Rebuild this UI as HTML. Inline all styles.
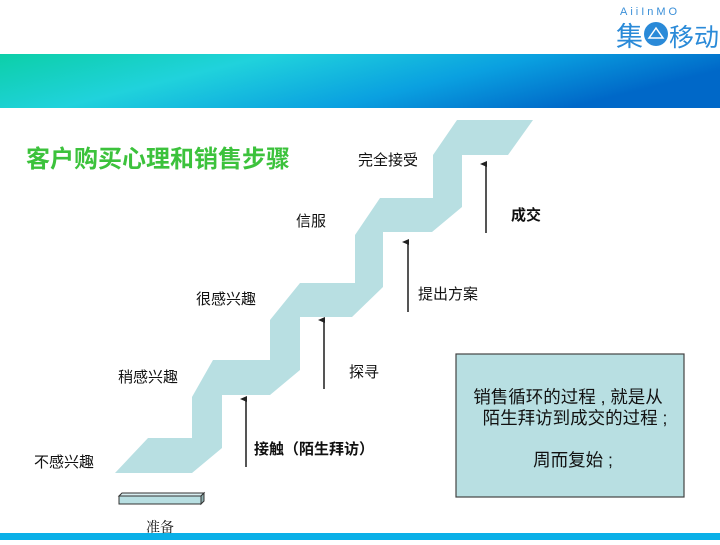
<!DOCTYPE html>
<html><head><meta charset="utf-8"><style>
body{margin:0;width:720px;height:540px;overflow:hidden;background:#fff;font-family:"Liberation Sans","Noto Sans CJK SC",sans-serif}
</style></head><body>
<svg width="720" height="540" viewBox="0 0 720 540" xmlns="http://www.w3.org/2000/svg" font-family="Liberation Sans, Noto Sans CJK SC, sans-serif">
<defs>
<linearGradient id="hg" x1="0" y1="0" x2="1" y2="0.3">
<stop offset="0" stop-color="#0ccfa8"/>
<stop offset="0.35" stop-color="#20d2dc"/>
<stop offset="0.7" stop-color="#0aa0e0"/>
<stop offset="1" stop-color="#0068c8"/>
</linearGradient>
<marker id="ar" markerWidth="8" markerHeight="8" refX="4" refY="6" orient="auto-start-reverse" markerUnits="userSpaceOnUse"><path d="M1,7 L4,0 L7,7 Z" fill="#222"/></marker>
</defs>
<rect x="0" y="54" width="720" height="54" fill="url(#hg)"/>
<text x="620" y="15" font-size="11" fill="#3a8fd8" letter-spacing="3">AiiInMO</text>
<text x="616" y="46" font-size="27" fill="#2a8ad8">集</text>
<circle cx="656" cy="34" r="12" fill="#2a8ad8"/>
<path d="M649,38 L656,28 L663,38 Z" fill="none" stroke="#fff" stroke-width="1.5"/>
<text x="669" y="46" font-size="25" fill="#2a8ad8">移动</text>
<rect x="0" y="533" width="720" height="7" fill="#0ab0e8"/>

<text x="26" y="167" font-size="24" font-weight="bold" fill="#3cc23c">客户购买心理和销售步骤</text>

<polygon fill="#b8dfe2" points="115,473 148,438 192,438 192,397 213,360 270,360 270,320 300,283 355,283 355,235 380,198 433,198 433,155 457,120 533,120 508,155 462,155 462,207 432,232 383,232 383,287 352,317 300,317 300,370 270,395 222,395 222,448 192,473"/>

<g stroke="#555" stroke-width="2">
<line x1="246" y1="467" x2="246" y2="399" marker-end="url(#ar)"/>
<line x1="324" y1="389" x2="324" y2="320" marker-end="url(#ar)"/>
<line x1="408" y1="312" x2="408" y2="242" marker-end="url(#ar)"/>
<line x1="486" y1="233" x2="486" y2="164" marker-end="url(#ar)"/>
</g>

<g font-size="15" fill="#111">
<text x="34" y="467">不感兴趣</text>
<text x="118" y="382">稍感兴趣</text>
<text x="196" y="304">很感兴趣</text>
<text x="296" y="226">信服</text>
<text x="358" y="165">完全接受</text>
<text x="349" y="377">探寻</text>
<text x="418" y="299">提出方案</text>
<text x="254" y="454" font-weight="bold">接触（陌生拜访）</text>
<text x="511" y="220" font-weight="bold">成交</text>
</g>

<polygon points="119,496 122,493 204,493 201,496" fill="#d8eef0" stroke="#333" stroke-width="1"/>
<polygon points="201,496 204,493 204,501 201,504" fill="#8fb0b2" stroke="#333" stroke-width="1"/>
<rect x="119" y="496" width="82" height="8" fill="#b8dfe2" stroke="#333" stroke-width="1"/>
<text x="146" y="532" font-size="14" fill="#111" font-family="Liberation Serif, Noto Serif CJK SC, serif">准备</text>

<rect x="456" y="354" width="228" height="143" fill="#b8dfe2" stroke="#444" stroke-width="1.2"/>
<g font-size="17.5" fill="#111" text-anchor="middle">
<text x="568" y="403">销售循环的过程 , 就是从</text>
<text x="575" y="424">陌生拜访到成交的过程 ;</text>
<text x="573" y="466">周而复始 ;</text>
</g>
</svg>
</body></html>
